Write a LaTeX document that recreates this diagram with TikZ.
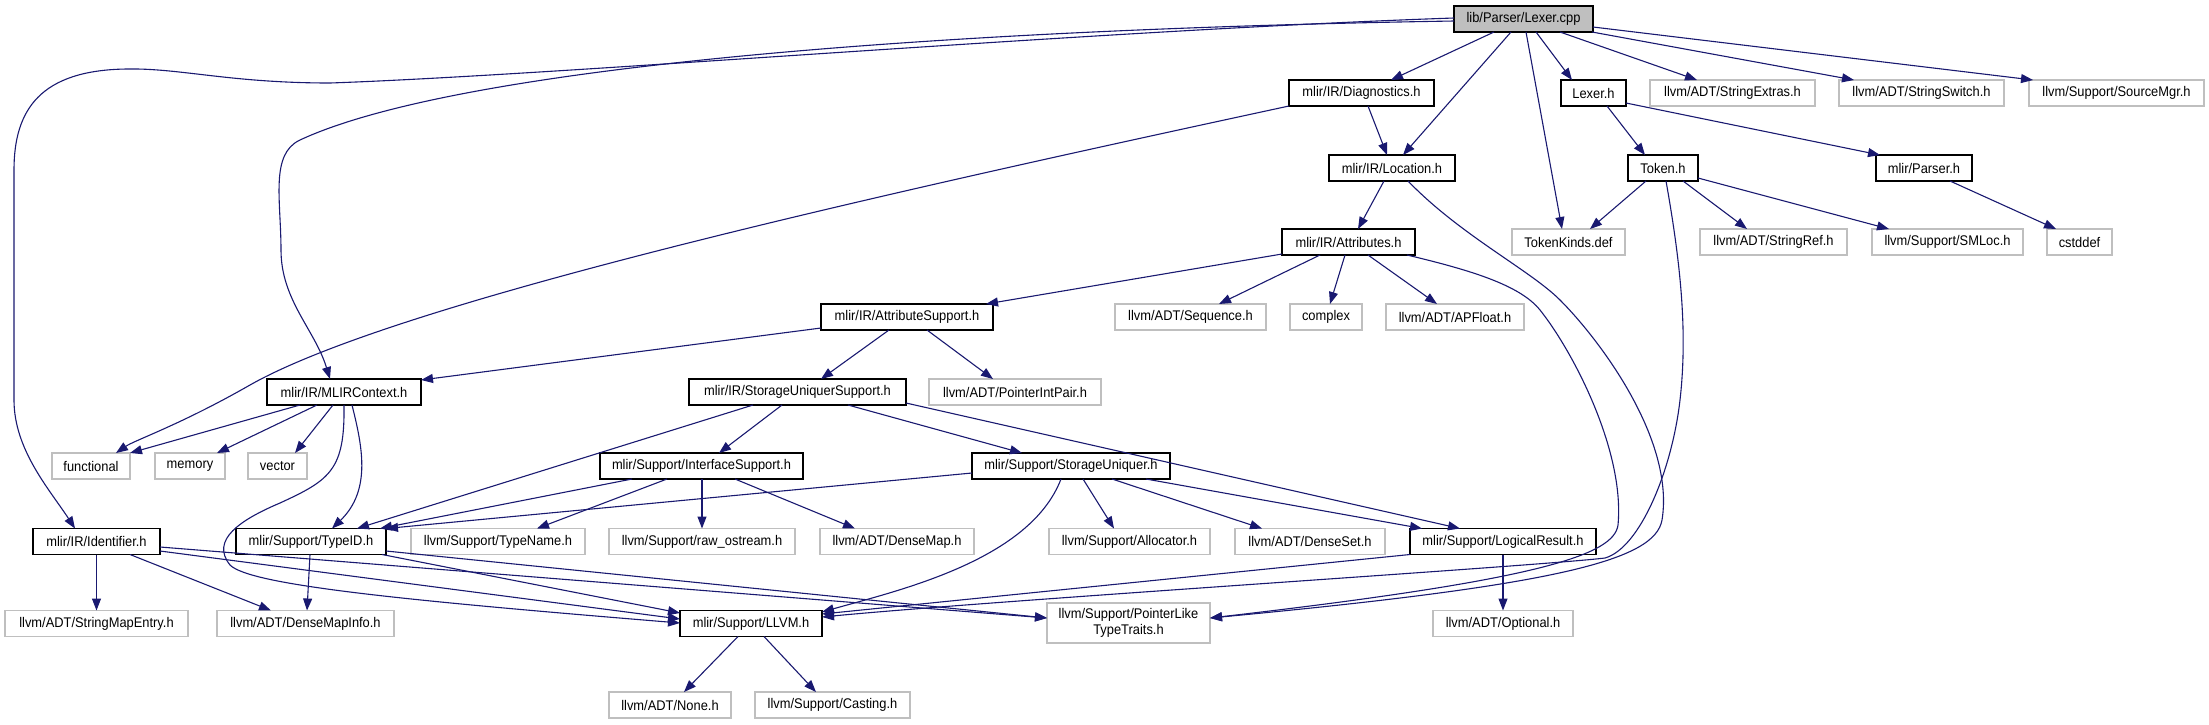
\documentclass[tikz,border=0pt]{standalone}
\usepackage{fontspec}
\setmainfont{Liberation Sans}[FakeStretch=0.92]
\usetikzlibrary{arrows.meta}
\definecolor{edgec}{HTML}{191970}
\definecolor{greyb}{HTML}{BFBFBF}
\newcommand\gnode[7]{\node[#1, minimum width=#5pt, minimum height=#6pt] (#2) at (#3,#4) {#7};}
\begin{document}
\begin{tikzpicture}[x=1pt,y=-1pt,
  every node/.style={font=\fontsize{14}{16}\selectfont, inner sep=0pt, outer sep=0pt, text=black},
  nb/.style={draw=black, line width=1.4pt, fill=white},
  ng/.style={draw=greyb, line width=1.4pt, fill=white},
  nroot/.style={draw=black, fill=greyb, line width=1.4pt},
  edge/.style={draw=edgec, line width=1.1pt, -{Triangle[length=12pt,width=9pt]}}]
\useasboundingbox (0,0) rectangle (2209,724);
% row 0
\gnode{nroot}{root}{1523.5}{19}{139}{26}{lib/Parser/Lexer.cpp}
% row 1
\gnode{nb}{diag}{1361.5}{93}{145}{26}{mlir/IR/Diagnostics.h}
\gnode{nb}{lexerh}{1593.5}{93}{65}{26}{Lexer.h}
\gnode{ng}{strext}{1732.5}{93}{165}{26}{llvm/ADT/StringExtras.h}
\gnode{ng}{strsw}{1921.5}{93}{165}{26}{llvm/ADT/StringSwitch.h}
\gnode{ng}{srcmgr}{2116.5}{93}{175}{26}{llvm/Support/SourceMgr.h}
% row 2
\gnode{nb}{loc}{1392}{168}{126}{26}{mlir/IR/Location.h}
\gnode{nb}{token}{1663}{168}{70}{26}{Token.h}
\gnode{nb}{parser}{1924}{168}{96}{26}{mlir/Parser.h}
% row 3
\gnode{nb}{attrs}{1348.5}{242}{133}{26}{mlir/IR/Attributes.h}
\gnode{ng}{tokkinds}{1568.5}{242}{113}{26}{TokenKinds.def}
\gnode{ng}{strref}{1773.5}{242}{147}{26}{llvm/ADT/StringRef.h}
\gnode{ng}{smloc}{1947.5}{242}{151}{26}{llvm/Support/SMLoc.h}
\gnode{ng}{cstddef}{2079.5}{242}{65}{26}{cstddef}
% row 4
\gnode{nb}{attrsup}{907}{317}{172}{26}{mlir/IR/AttributeSupport.h}
\gnode{ng}{seq}{1190.5}{317}{151}{26}{llvm/ADT/Sequence.h}
\gnode{ng}{complex}{1326}{317}{72}{26}{complex}
\gnode{ng}{apfloat}{1455}{317}{138}{26}{llvm/ADT/APFloat.h}
% row 5
\gnode{nb}{mlirctx}{344}{392}{154}{26}{mlir/IR/MLIRContext.h}
\gnode{nb}{sus}{797.5}{392}{217}{26}{mlir/IR/StorageUniquerSupport.h}
\gnode{ng}{pip}{1015}{392}{172}{26}{llvm/ADT/PointerIntPair.h}
% row 6
\gnode{ng}{functional}{91}{466}{78}{26}{functional}
\gnode{ng}{memory}{190}{466}{70}{26}{memory}
\gnode{ng}{vector}{277.5}{466}{59}{26}{vector}
\gnode{nb}{ifsup}{701.5}{466}{203}{26}{mlir/Support/InterfaceSupport.h}
\gnode{nb}{storu}{1071}{466}{198}{26}{mlir/Support/StorageUniquer.h}
% row 7
\gnode{nb}{ident}{96.5}{541.5}{127}{26}{mlir/IR/Identifier.h}
\gnode{nb}{typeid}{311}{541.5}{150}{26}{mlir/Support/TypeID.h}
\gnode{ng}{typename}{498}{541.5}{174}{26}{llvm/Support/TypeName.h}
\gnode{ng}{rawos}{702}{541.5}{186}{26}{llvm/Support/raw\_ostream.h}
\gnode{ng}{densemap}{897}{541.5}{154}{26}{llvm/ADT/DenseMap.h}
\gnode{ng}{alloc}{1129.5}{541.5}{161}{26}{llvm/Support/Allocator.h}
\gnode{ng}{denseset}{1310}{541.5}{150}{26}{llvm/ADT/DenseSet.h}
\gnode{nb}{logres}{1503}{541.5}{186}{26}{mlir/Support/LogicalResult.h}
% row 8
\gnode{ng}{smapent}{96.5}{623.5}{183}{26}{llvm/ADT/StringMapEntry.h}
\gnode{ng}{dmi}{305.5}{623.5}{177}{26}{llvm/ADT/DenseMapInfo.h}
\gnode{nb}{llvm}{751}{623.5}{142}{26}{mlir/Support/LLVM.h}
\node[ng, minimum width=163pt, minimum height=40pt, align=center] (plt) at (1128.5,623) {llvm/Support/PointerLike\\TypeTraits.h};
\gnode{ng}{optional}{1503}{623.5}{140}{26}{llvm/ADT/Optional.h}
% row 9
\gnode{ng}{none}{670}{705}{122}{26}{llvm/ADT/None.h}
\gnode{ng}{casting}{832.5}{705}{155}{26}{llvm/Support/Casting.h}

% ---- edges from root
\draw[edge] ([xshift=12.5pt]root.south) -- ([xshift=-21.5pt]lexerh.north);
\draw[edge] ([xshift=36.5pt]root.south) -- ([xshift=-35.5pt]strext.north);
\draw[edge] ([xshift=68.5pt]root.south) -- ([xshift=-67.5pt]strsw.north);
\draw[edge] ([yshift=-8pt]root.east) -- ([xshift=-83.5pt]srcmgr.north);
\draw[edge] ([xshift=2.5pt]root.south) -- ([xshift=-6.5pt]tokkinds.north);
\draw[edge] ([xshift=-12.5pt]root.south) -- ([xshift=11pt]loc.north);
\draw[edge] ([xshift=-29.5pt]root.south) -- ([xshift=29.5pt]diag.north);
\draw[edge] ([yshift=-2pt]root.west) .. controls (900,30) and (450,70) .. (300,140)
   .. controls (270,154) and (281,200) .. (281,250)
   .. controls (281,300) and (315,330) .. ([xshift=-14pt]mlirctx.north);
\draw[edge] ([yshift=1pt]root.west) .. controls (1100,30) and (560,75) .. (330,83)
   .. controls (230,83) and (180,68) .. (127,69)
   .. controls (40,70) and (14,110) .. (14,170) -- (14,400)
   .. controls (14,450) and (50,490) .. ([xshift=-21.5pt]ident.north);
% ---- Lexer.h, Token.h, Parser.h
\draw[edge] ([xshift=13.5pt]lexerh.south) -- ([xshift=-18pt]token.north);
\draw[edge] ([yshift=-10pt]lexerh.east) -- ([xshift=-44pt]parser.north);
\draw[edge] ([xshift=-17pt]token.south) -- ([xshift=21.5pt]tokkinds.north);
\draw[edge] ([xshift=20pt]token.south) -- ([xshift=-26.5pt]strref.north);
\draw[edge] ([yshift=-10pt]token.east) -- ([xshift=-58.5pt]smloc.north);
\draw[edge] ([xshift=26pt]parser.south) -- ([xshift=-23.5pt]cstddef.north);
\draw[edge] ([xshift=3pt]token.south) .. controls (1680,260) and (1688,330) .. (1680,400)
   .. controls (1672,470) and (1640,548) .. (1605,558)
   .. controls (1540,566) and (1000,600) .. ([yshift=6.5pt]llvm.east);
% ---- Diagnostics, Location
\draw[edge] ([xshift=6.5pt]diag.south) -- ([xshift=-5pt]loc.north);
\draw[edge] (diag.south west) .. controls (900,190) and (400,300) .. (250,385)
   .. controls (180,425) and (135,440) .. ([xshift=25pt]functional.north);
\draw[edge] ([xshift=-8pt]loc.south) -- ([xshift=9.5pt]attrs.north);
\draw[edge] ([xshift=16pt]loc.south) .. controls (1460,235) and (1530,270) .. (1560,300)
   .. controls (1600,340) and (1675,440) .. (1662,520)
   .. controls (1655,560) and (1560,585) .. ([yshift=5pt]plt.east);
% ---- Attributes
\draw[edge] ([yshift=-12pt]attrs.west) -- ([xshift=79pt]attrsup.north);
\draw[edge] ([xshift=-28.5pt]attrs.south) -- ([xshift=28.5pt]seq.north);
\draw[edge] ([xshift=-3.5pt]attrs.south) -- ([xshift=4pt]complex.north);
\draw[edge] ([xshift=19.5pt]attrs.south) -- ([xshift=-18pt]apfloat.north);
\draw[edge] ([xshift=58.5pt]attrs.south) .. controls (1470,270) and (1520,285) .. (1540,310)
   .. controls (1572,350) and (1625,450) .. (1618,525)
   .. controls (1614,555) and (1540,580) .. ([yshift=5pt]plt.east);
% ---- AttributeSupport
\draw[edge] ([yshift=-11pt]attrsup.west) -- ([yshift=12pt]mlirctx.east);
\draw[edge] ([xshift=-18pt]attrsup.south) -- ([xshift=23.5pt]sus.north);
\draw[edge] ([xshift=20pt]attrsup.south) -- ([xshift=-22pt]pip.north);
% ---- StorageUniquerSupport
\draw[edge] ([xshift=-15.5pt]sus.south) -- ([xshift=17.5pt]ifsup.north);
\draw[edge] ([xshift=50.5pt]sus.south) -- ([xshift=-49pt]storu.north);
\draw[edge] ([yshift=-11pt]sus.east) -- ([xshift=-43pt]logres.north);
\draw[edge] ([xshift=-44.5pt]sus.south) -- ([xshift=46pt]typeid.north);
% ---- MLIRContext
\draw[edge] ([xshift=-44pt]mlirctx.south) -- (functional.north east);
\draw[edge] ([xshift=-27pt]mlirctx.south) -- ([xshift=27pt]memory.north);
\draw[edge] ([xshift=-11pt]mlirctx.south) -- ([xshift=17.5pt]vector.north);
\draw[edge] ([xshift=8pt]mlirctx.south) .. controls (362,445) and (372,490) .. ([xshift=21pt]typeid.north);
\draw[edge] (mlirctx.south) .. controls (345,470) and (330,480) .. (280,503)
   .. controls (240,520) and (210,540) .. (230,565)
   .. controls (250,585) and (400,600) .. ([yshift=0.5pt]llvm.west);
% ---- InterfaceSupport
\draw[edge] ([xshift=-69.5pt]ifsup.south) -- ([xshift=69pt]typeid.north);
\draw[edge] ([xshift=-34.5pt]ifsup.south) -- ([xshift=39pt]typename.north);
\draw[edge] ([xshift=0.5pt]ifsup.south) -- (rawos.north);
\draw[edge] ([xshift=33.5pt]ifsup.south) -- ([xshift=-42pt]densemap.north);
% ---- StorageUniquer
\draw[edge] ([yshift=-7pt]storu.west) -- (typeid.north east);
\draw[edge] ([xshift=-10pt]storu.south) .. controls (1030,560) and (900,590) .. ([yshift=11.5pt]llvm.east);
\draw[edge] ([xshift=12pt]storu.south) -- ([xshift=-15.5pt]alloc.north);
\draw[edge] ([xshift=41pt]storu.south) -- ([xshift=-48pt]denseset.north);
\draw[edge] ([xshift=75pt]storu.south) -- ([xshift=-81pt]logres.north);
% ---- LogicalResult
\draw[edge] (logres.south west) -- ([yshift=9.5pt]llvm.east);
\draw[edge] (logres.south) -- (optional.north);
% ---- Identifier
\draw[edge] (ident.south) -- (smapent.north);
\draw[edge] ([xshift=33.5pt]ident.south) -- ([xshift=-34.5pt]dmi.north);
\draw[edge] ([yshift=-9.5pt]ident.east) -- ([yshift=4.5pt]llvm.west);
\draw[edge] ([yshift=-5.5pt]ident.east) -- ([yshift=5pt]plt.west);
% ---- TypeID
\draw[edge] ([xshift=-1pt]typeid.south) -- ([xshift=1.5pt]dmi.north);
\draw[edge] ([xshift=71pt]typeid.south) -- ([yshift=10.5pt]llvm.west);
\draw[edge] ([yshift=-9.5pt]typeid.east) -- ([yshift=5pt]plt.west);
% ---- LLVM
\draw[edge] ([xshift=-13pt]llvm.south) -- ([xshift=14pt]none.north);
\draw[edge] ([xshift=13pt]llvm.south) -- ([xshift=-16.5pt]casting.north);
\end{tikzpicture}
\end{document}
